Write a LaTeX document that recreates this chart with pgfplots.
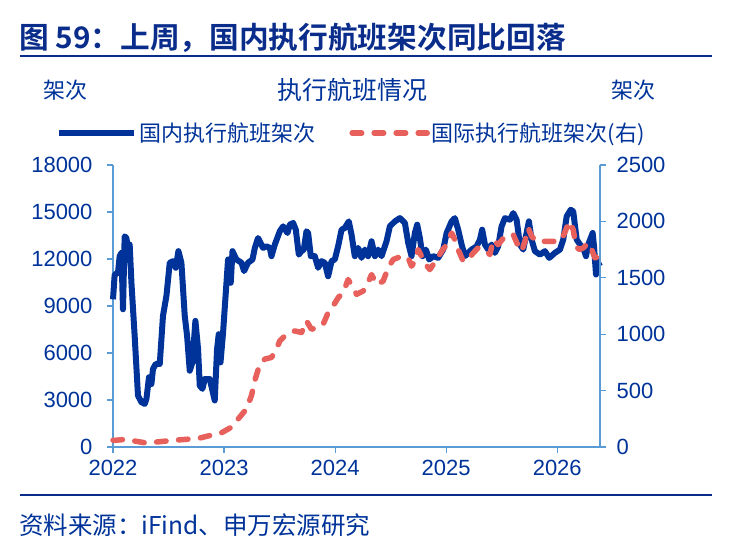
\documentclass[border=0pt]{standalone}
\usepackage{fontspec}
\usepackage{pgfplots}
\pgfplotsset{compat=1.18}
\setmainfont{Liberation Sans}
\newfontfamily\cjk[BoldFont={Noto Sans CJK SC Bold}]{Noto Sans CJK SC}
\definecolor{navy}{RGB}{0,51,153}
\definecolor{ttl}{RGB}{10,45,140}
\definecolor{axblue}{RGB}{91,155,213}
\definecolor{cred}{RGB}{232,96,92}
\begin{document}
\begin{tikzpicture}[x=1pt,y=1pt]
\path[use as bounding box] (0,0) rectangle (729,549);
\node[anchor=west, inner sep=0, text=ttl, font=\cjk\bfseries\fontsize{29.7}{32}\selectfont] at (19,511) {图 59：上周，国内执行航班架次同比回落};
\draw[ttl, line width=2pt] (20,493) -- (712,493);
\node[text=navy, inner sep=0, font=\cjk\fontsize{22}{24}\selectfont] at (65,459) {架次};
\node[text=navy, inner sep=0, font=\cjk\fontsize{22}{24}\selectfont] at (633,459) {架次};
\node[text=navy, inner sep=0, font=\cjk\fontsize{25}{27}\selectfont] at (352,459) {执行航班情况};
\draw[ttl, line width=2pt] (20,54) -- (712,54);
\node[anchor=west, inner sep=0, text=navy, font=\cjk\fontsize{24.5}{27}\selectfont] at (19,24) {资料来源：iFind、申万宏源研究};
\begin{axis}[
  at={(113pt,102pt)}, anchor=south west,
  width=487pt, height=282pt, scale only axis,
  xmin=2022, xmax=2026.385, ymin=0, ymax=18000,
  axis x line*=bottom, axis y line*=left,
  axis line style={axblue, line width=1.2pt, -},
  tick style={axblue, line width=1.2pt},
  tick align=outside, major tick length=6pt,
  scaled y ticks=false, scaled x ticks=false,
  xtick={2022,2023,2024,2025,2026},
  xticklabels={2022,2023,2024,2025,2026},
  ytick={0,3000,6000,9000,12000,15000,18000},
  yticklabels={0,3000,6000,9000,12000,15000,18000},
  ticklabel style={font=\fontsize{22}{22}\selectfont, text=navy},
  yticklabel style={xshift=-11pt},
  xticklabel style={yshift=-4pt},
  legend style={draw=none, fill=none, at={(0.49,1.113)}, anchor=center,
    font=\cjk\fontsize{22}{24}\selectfont, text=navy, /tikz/every even column/.append style={column sep=32pt}},
  legend columns=2,
  legend image code/.code={\draw[#1] (0pt,0pt) -- (75pt,0pt);},
  clip=false,
]
\addplot[navy, line width=6pt, line join=round] coordinates {
(2022.000,9425)(2022.015,11000)(2022.045,11120)(2022.060,12180)(2022.076,12390)(2022.090,8790)(2022.105,13450)(2022.121,13340)(2022.135,12600)(2022.150,12920)(2022.166,10480)(2022.195,7095)(2022.225,3280)(2022.256,2860)(2022.286,2750)(2022.301,3070)(2022.324,4450)(2022.346,4020)(2022.360,4980)(2022.385,5300)(2022.421,5300)(2022.450,8370)(2022.481,9640)(2022.511,11760)(2022.541,11860)(2022.565,11440)(2022.589,12500)(2022.616,11760)(2022.646,8370)(2022.667,7095)(2022.691,4870)(2022.715,5400)(2022.742,8050)(2022.766,6250)(2022.781,3920)(2022.805,3710)(2022.826,4340)(2022.871,4340)(2022.892,3710)(2022.916,2970)(2022.937,6250)(2022.952,7200)(2022.968,5400)(2022.991,7300)(2023.036,11970)(2023.060,10480)(2023.076,12500)(2023.111,11970)(2023.157,11760)(2023.180,11230)(2023.216,11760)(2023.256,11970)(2023.277,12710)(2023.306,13340)(2023.351,12710)(2023.382,12810)(2023.412,12710)(2023.427,12180)(2023.457,12920)(2023.502,13770)(2023.532,14085)(2023.571,13660)(2023.592,14190)(2023.622,14300)(2023.646,13870)(2023.673,12280)(2023.697,12500)(2023.718,12600)(2023.742,13770)(2023.757,13660)(2023.781,12180)(2023.817,12180)(2023.847,11440)(2023.877,11860)(2023.907,11760)(2023.937,10900)(2023.968,11860)(2023.997,11970)(2024.027,12810)(2024.058,13870)(2024.087,13980)(2024.123,14400)(2024.148,13550)(2024.177,12180)(2024.207,12710)(2024.238,12070)(2024.268,12600)(2024.297,12180)(2024.328,13130)(2024.358,12180)(2024.387,12600)(2024.418,12180)(2024.463,13130)(2024.493,14085)(2024.538,14400)(2024.583,14610)(2024.628,14300)(2024.658,13025)(2024.688,12180)(2024.718,13660)(2024.739,14190)(2024.763,13340)(2024.787,12180)(2024.817,12600)(2024.847,11970)(2024.883,12180)(2024.928,12070)(2024.973,12600)(2025.004,13660)(2025.049,14400)(2025.078,14610)(2025.108,13870)(2025.139,12920)(2025.168,12180)(2025.229,12600)(2025.274,12810)(2025.304,13240)(2025.324,13870)(2025.349,12920)(2025.378,12600)(2025.409,12920)(2025.439,12390)(2025.468,12810)(2025.499,14085)(2025.529,14610)(2025.574,14510)(2025.604,14930)(2025.634,14510)(2025.664,12920)(2025.694,12600)(2025.724,13660)(2025.745,14400)(2025.769,13240)(2025.799,12500)(2025.844,12280)(2025.889,12500)(2025.928,12070)(2025.979,12390)(2026.024,12600)(2026.054,13240)(2026.085,14720)(2026.121,15140)(2026.144,15040)(2026.175,13240)(2026.205,12920)(2026.234,12710)(2026.259,12180)(2026.279,12920)(2026.319,13660)(2026.331,12810)(2026.349,11010)(2026.360,11860)(2026.385,11540)
};
\addlegendentry{国内执行航班架次}
\addlegendimage{cred, line width=5.5pt, line cap=round, dash pattern=on 9.5pt off 12.5pt}
\addlegendentry{国际执行航班架次(右)}
\end{axis}
\begin{axis}[
  at={(113pt,102pt)}, anchor=south west,
  width=487pt, height=282pt, scale only axis,
  xmin=2022, xmax=2026.385, ymin=0, ymax=2500,
  axis x line=none, axis y line*=right,
  axis line style={axblue, line width=1.2pt, -},
  tick style={axblue, line width=1.2pt},
  tick align=outside, major tick length=6pt,
  scaled y ticks=false,
  ytick={0,500,1000,1500,2000,2500},
  yticklabels={0,500,1000,1500,2000,2500},
  ticklabel style={font=\fontsize{22}{22}\selectfont, text=navy},
  yticklabel style={xshift=7pt},
  clip=false,
]
\addplot[cred, line width=5.5pt, line cap=round, line join=round, dash pattern=on 9.5pt off 12.5pt] coordinates {
(2022.000,60)(2022.015,59)(2022.121,68)(2022.211,50)(2022.286,38)(2022.391,44)(2022.541,59)(2022.661,68)(2022.781,79)(2022.901,109)(2022.977,126)(2023.067,176)(2023.141,265)(2023.202,338)(2023.247,456)(2023.277,590)(2023.322,735)(2023.367,779)(2023.427,794)(2023.472,868)(2023.502,941)(2023.562,1000)(2023.637,1029)(2023.697,1015)(2023.742,1118)(2023.787,1044)(2023.847,1059)(2023.892,1088)(2023.937,1191)(2023.982,1250)(2024.027,1323)(2024.072,1368)(2024.117,1485)(2024.162,1412)(2024.193,1353)(2024.252,1382)(2024.297,1456)(2024.328,1529)(2024.373,1441)(2024.432,1470)(2024.477,1588)(2024.523,1662)(2024.598,1691)(2024.658,1676)(2024.688,1603)(2024.727,1662)(2024.748,1750)(2024.778,1691)(2024.817,1617)(2024.853,1573)(2024.914,1662)(2024.959,1735)(2025.004,1794)(2025.049,1897)(2025.078,1838)(2025.108,1750)(2025.153,1647)(2025.198,1662)(2025.243,1720)(2025.288,1765)(2025.349,1750)(2025.394,1706)(2025.423,1838)(2025.468,1794)(2025.529,1868)(2025.604,1882)(2025.649,1780)(2025.679,1735)(2025.709,1823)(2025.739,1941)(2025.769,1868)(2025.814,1823)(2025.874,1823)(2025.934,1823)(2025.995,1823)(2026.040,1838)(2026.078,1926)(2026.108,2000)(2026.144,1926)(2026.168,1780)(2026.198,1750)(2026.234,1765)(2026.279,1809)(2026.310,1750)(2026.340,1676)(2026.378,1691)
};
\end{axis}
\end{tikzpicture}
\end{document}
